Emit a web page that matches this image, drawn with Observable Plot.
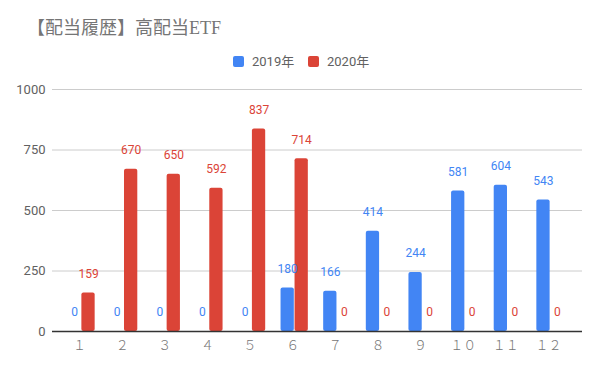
<!DOCTYPE html>
<html>
<head>
<meta charset="utf-8">
<script src="https://cdn.jsdelivr.net/npm/d3@7"></script>
<script src="https://cdn.jsdelivr.net/npm/@observablehq/plot@0.6"></script>
<style>
  body { margin: 0; background: #fff; width: 600px; height: 371px; overflow: hidden; }
  #header { position: relative; height: 76px; width: 600px; }
  #title { position: absolute; left: 27px; top: 19px; font-family: "Liberation Serif", "DejaVu Serif", "Noto Sans CJK JP", serif; font-size: 18px; line-height: 1; color: #757575; white-space: nowrap; }
  #legend { position: absolute; left: 0; width: 600px; top: 55px; font-family: Roboto, "Noto Sans CJK JP", sans-serif; font-size: 13px; color: #616161; line-height: 14px; }
  .item { position: absolute; top: 0; white-space: nowrap; }
  .sw { display: inline-block; width: 11px; height: 11px; border-radius: 2px; vertical-align: -1px; margin-right: 8px; }
</style>
</head>
<body>
<div id="header">
  <div id="title"></div>
  <div id="legend"></div>
</div>
<div id="chart"></div>
<script>
const title = "【配当履歴】高配当ETF";
const months = ["１","２","３","４","５","６","７","８","９","１０","１１","１２"];
const seriesNames = ["2019年", "2020年"];
const values2019 = [0, 0, 0, 0, 0, 180, 166, 414, 244, 581, 604, 543];
const values2020 = [159, 670, 650, 592, 837, 714, 0, 0, 0, 0, 0, 0];
const yTicks = [0, 250, 500, 750, 1000];
const colors = ["#4285F4", "#DB4437"];

document.getElementById("title").textContent = title;
const legend = document.getElementById("legend");
const legendLefts = [233, 308];
seriesNames.forEach((s, i) => {
  const d = document.createElement("div");
  d.className = "item";
  d.style.left = legendLefts[i] + "px";
  d.innerHTML = `<span class="sw" style="background:${colors[i]}"></span>${s}`;
  legend.appendChild(d);
});

const d19 = months.map((m, i) => ({month: m, value: values2019[i]}));
const d20 = months.map((m, i) => ({month: m, value: values2020[i]}));

const chart = Plot.plot({
  width: 600,
  height: 295,
  marginLeft: 52,
  marginRight: 18,
  marginTop: 13,
  marginBottom: 40,
  style: {fontFamily: "Roboto, 'Noto Sans CJK JP', sans-serif", fontSize: "13px", color: "#616161", background: "#fff"},
  x: {type: "band", domain: months, round: false, paddingInner: 0.36, paddingOuter: 0.18, insetLeft: 7.7, insetRight: 10.7, label: null},
  y: {domain: [0, 1000], label: null},
  marks: [
    Plot.ruleY(yTicks.filter(t => t > 0), {stroke: "#cccccc", strokeWidth: 1}),
    Plot.axisY({ticks: yTicks, tickFormat: d => String(d), tickSize: 0, tickPadding: 7, label: null, fill: "#616161", fontSize: 13}),
    Plot.axisX({tickSize: 0, tickPadding: 9, label: null, fill: "#757575", fontSize: 13, fontWeight: 300, dx: -2}),
    Plot.barY(d19, {x: "month", y: "value", fill: colors[0], insetRight: 14, rx: 2}),
    Plot.barY(d20, {x: "month", y: "value", fill: colors[1], insetLeft: 14, rx: 2}),
    Plot.ruleY([0], {stroke: "#333333", strokeWidth: 1.5}),
    Plot.text(d19, {x: "month", y: "value", text: d => String(d.value), fill: colors[0], dx: -7, dy: -19, fontSize: 12, textAnchor: "middle"}),
    Plot.text(d20, {x: "month", y: "value", text: d => String(d.value), fill: colors[1], dx: 7, dy: -19, fontSize: 12, textAnchor: "middle"})
  ]
});
document.getElementById("chart").appendChild(chart);
</script>
</body>
</html>
